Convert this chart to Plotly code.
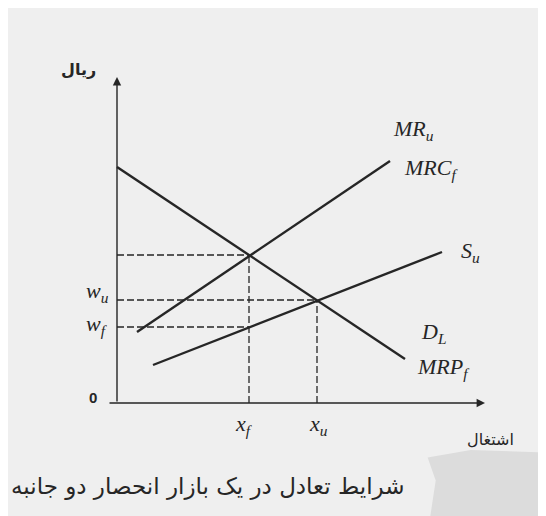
"""Equilibrium in a bilateral monopoly labour market (textbook figure)."""
import plotly.graph_objects as go

# curves, in chart units (labour on x, rial on y)
demand_x = [0.0, 28.8]          # D_L = MRP_f
demand_y = [23.6, 4.4]
mrc_x = [2.0, 27.3]             # MR_u = MRC_f
mrc_y = [7.1, 24.2]
supply_x = [3.6, 32.5]          # S_u
supply_y = [3.8, 15.1]

# equilibrium levels
x_f, x_u = 13.2, 20.0
w_top, w_u, w_f = 14.8, 10.3, 7.6

INK = "#262626"
SERIF = "Liberation Serif"
ARABIC = "DejaVu Sans"

fig = go.Figure()

for xs, ys in [(demand_x, demand_y), (mrc_x, mrc_y), (supply_x, supply_y)]:
    fig.add_trace(go.Scatter(x=xs, y=ys, mode="lines",
                             line=dict(color=INK, width=2.4), hoverinfo="skip"))

dashed = [
    ([0, x_f], [w_top, w_top]),
    ([x_f, x_f], [0, w_top]),
    ([0, x_u], [w_u, w_u]),
    ([x_u, x_u], [0, w_u]),
    ([0, x_f], [w_f, w_f]),
]
for xs, ys in dashed:
    fig.add_trace(go.Scatter(x=xs, y=ys, mode="lines",
                             line=dict(color=INK, width=1.3, dash="7px,3px"),
                             hoverinfo="skip"))

# axes drawn as arrows
fig.add_annotation(x=0, y=32.6, ax=0, ay=0, axref="x", ayref="y", text="",
                   showarrow=True, arrowhead=2, arrowsize=1.2, arrowwidth=1.4,
                   arrowcolor=INK)
fig.add_annotation(x=36.8, y=0, ax=-0.9, ay=0, axref="x", ayref="y", text="",
                   showarrow=True, arrowhead=2, arrowsize=1.2, arrowwidth=1.4,
                   arrowcolor=INK)


def label(x, y, text, size=22, family=SERIF, **kw):
    fig.add_annotation(x=x, y=y, text=text, showarrow=False,
                       font=dict(family=family, size=size, color=INK), **kw)


label(-3.9, 33.4, "<b>ریال</b>", size=16, family=ARABIC)
label(-2.4, 0.6, "<b>0</b>", size=15, family="Liberation Sans")
label(-2.0, 11.1, "<i>w</i><sub><i>u</i></sub>")
label(-2.0, 7.8, "<i>w</i><sub><i>f</i></sub>")
label(12.7, -2.2, "<i>x</i><sub><i>f</i></sub>")
label(20.1, -2.2, "<i>x</i><sub><i>u</i></sub>")
label(29.6, 27.3, "<i>MR</i><sub><i>u</i></sub>")
label(31.4, 23.4, "<i>MRC</i><sub><i>f</i></sub>")
label(35.3, 15.1, "<i>S</i><sub><i>u</i></sub>")
label(31.6, 7.0, "<i>D</i><sub><i>L</i></sub>")
label(32.6, 3.5, "<i>MRP</i><sub><i>f</i></sub>")
label(37.3, -3.6, "اشتغال", size=16, family=ARABIC)
label(29.0, -8.3, "شرایط تعادل در یک بازار انحصار دو جانبه", size=23,
      family=ARABIC, xanchor="right")

fig.update_layout(
    width=538, height=508, margin=dict(l=0, r=0, t=0, b=0),
    paper_bgcolor="#efefef", plot_bgcolor="rgba(0,0,0,0)", showlegend=False,
    shapes=[
        dict(type="path", xref="paper", yref="paper", layer="below",
             path="M 0.785 0.0 L 0.795 0.07 L 0.78 0.115 L 0.86 0.13 L 1 0.125 L 1 0 Z",
             fillcolor="#dcdcdc", line_width=0),
    ],
)
fig.update_xaxes(range=[-10.9, 42.9], visible=False)
fig.update_yaxes(range=[-11.3, 39.5], visible=False)

fig.write_html("out.html")
